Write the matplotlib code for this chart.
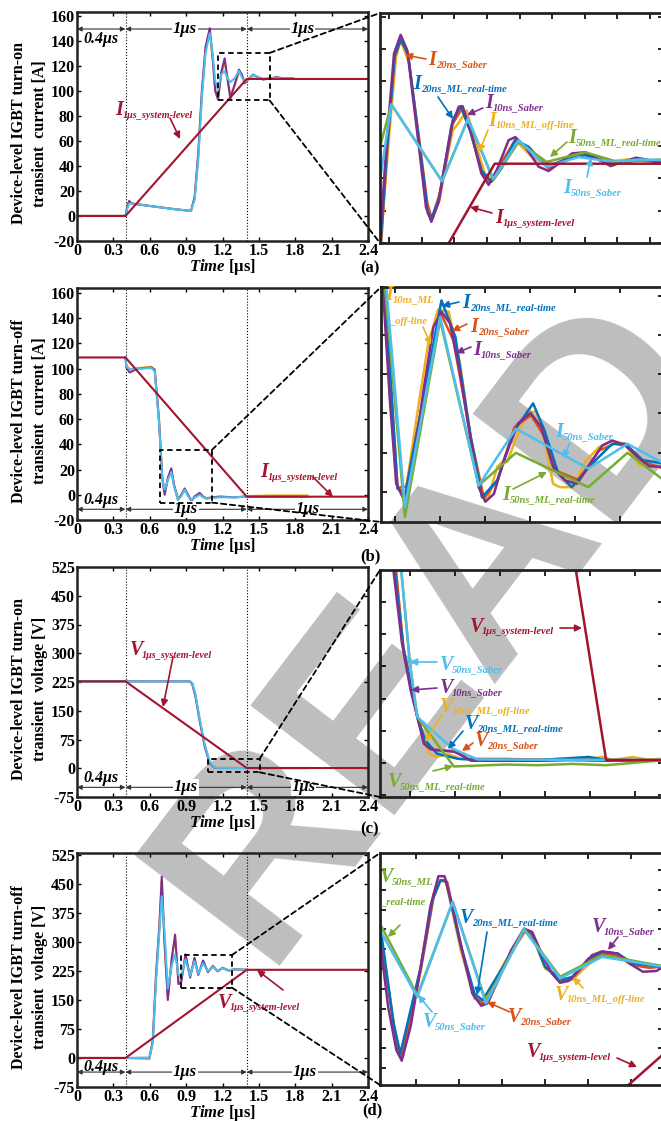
import numpy as np
import matplotlib
matplotlib.use('Agg')
import matplotlib.pyplot as plt
from matplotlib.patches import Rectangle, ConnectionPatch, FancyArrowPatch

plt.rcParams['font.family'] = ['Liberation Serif', 'DejaVu Serif']
plt.rcParams['font.weight'] = 'bold'
plt.rcParams['mathtext.fontset'] = 'custom'
plt.rcParams['mathtext.it'] = 'Liberation Serif:italic:bold'
plt.rcParams['mathtext.rm'] = 'Liberation Serif:bold'
plt.rcParams['mathtext.bf'] = 'Liberation Serif:bold'
plt.rcParams['axes.unicode_minus'] = False

# ---------------- data ----------------
TIME_TICKS = [0, 0.3, 0.6, 0.9, 1.2, 1.5, 1.8, 2.1, 2.4]
CUR_TICKS = [-20, 0, 20, 40, 60, 80, 100, 120, 140, 160]
VOLT_TICKS = [-75, 0, 75, 150, 225, 300, 375, 450, 525]

# (a) turn-on current, main view
a_t = [0, 0.40, 0.415, 0.43, 0.45, 0.6, 0.8, 0.94, 0.97, 1.0, 1.03, 1.06, 1.095, 1.12, 1.14, 1.163,
       1.19, 1.218, 1.24, 1.265, 1.3, 1.336, 1.36, 1.383, 1.42, 1.452, 1.49, 1.534, 1.6, 1.644, 1.7, 1.78]
a_s10 = [0, 0, 8, 12, 10, 8, 5.5, 4, 15, 50, 100, 135, 150, 125, 100, 93,
         115, 126, 110, 94, 105, 117, 113, 106, 110, 113, 111, 109, 110, 111, 110, 110]
a_ml10 = [0, 0, 7, 11, 10, 8, 5.5, 4, 14, 48, 98, 133, 148, 124, 101, 94,
          113, 123, 111, 96, 104, 115, 112, 107, 110, 112, 111, 109.5, 110, 110.5, 110, 110]
a_s50 = [0, 0, 6, 10, 10, 8, 5.5, 4, 13, 45, 95, 130, 146, 128, 108, 101,
         113, 116, 110, 107, 110, 116, 111, 107, 110, 113, 111, 109.5, 110, 110.5, 110, 110]
a_sys_t = [0, 0.4, 1.4, 2.4]
a_sys = [0, 0, 109.5, 109.5]

# (a) zoom view
a_z_s10_t = [1.162, 1.172, 1.184, 1.194, 1.204, 1.219, 1.232, 1.240, 1.250, 1.270, 1.281, 1.287, 1.300, 1.315, 1.326,
             1.338, 1.356, 1.366, 1.381, 1.401, 1.416, 1.431, 1.451, 1.471, 1.492, 1.509, 1.527, 1.547, 1.567, 1.582, 1.589]
a_z_s10_v = [91.0, 107.6, 123.6, 126.7, 124.1, 110.4, 98.2, 95.8, 98.8, 111.5, 114.8, 114.9, 110.4, 103.8, 101.9,
             104.3, 109.3, 109.8, 108.2, 104.9, 104.2, 105.4, 107.1, 107.3, 106.0, 105.0, 105.7, 106.4, 106.0, 105.4, 105.7]
a_z_s20_t = [1.164, 1.174, 1.185, 1.195, 1.205, 1.222, 1.234, 1.241, 1.252, 1.272, 1.286, 1.300, 1.316, 1.328, 1.340,
             1.366, 1.386, 1.416, 1.436, 1.471, 1.512, 1.552, 1.589]
a_z_s20_v = [91.0, 108.2, 123.0, 126.1, 123.3, 109.3, 98.8, 96.3, 99.3, 112.0, 114.5, 110.4, 104.0, 102.4, 104.6,
             109.4, 107.9, 104.6, 105.7, 107.1, 105.4, 106.1, 105.7]
a_z_ml10_t = [1.165, 1.177, 1.187, 1.194, 1.207, 1.224, 1.236, 1.242, 1.255, 1.272, 1.280, 1.293, 1.308, 1.320, 1.333,
              1.345, 1.366, 1.391, 1.419, 1.441, 1.469, 1.502, 1.532, 1.562, 1.589]
a_z_ml10_v = [93.8, 110.4, 123.0, 125.8, 121.9, 106.5, 97.1, 96.6, 101.6, 110.9, 112.0, 114.2, 108.2, 103.8, 102.7,
              104.9, 109.3, 106.5, 104.9, 106.2, 107.1, 105.7, 106.1, 105.8, 106.0]
a_z_ml20_t = [1.164, 1.174, 1.185, 1.194, 1.205, 1.222, 1.235, 1.241, 1.252, 1.272, 1.284, 1.298, 1.315, 1.330, 1.345,
              1.366, 1.386, 1.413, 1.441, 1.471, 1.512, 1.552, 1.589]
a_z_ml20_v = [92.7, 108.7, 123.3, 125.8, 123.6, 108.7, 97.1, 96.6, 99.9, 112.6, 114.9, 110.9, 104.3, 102.4, 104.6,
              109.3, 108.2, 104.9, 106.1, 106.8, 105.4, 106.0, 105.6]
a_z_s50_t = [1.163, 1.180, 1.256, 1.295, 1.333, 1.371, 1.413, 1.461, 1.512, 1.552, 1.589]
a_z_s50_v = [102.7, 115.2, 102.5, 112.8, 102.9, 109.3, 104.9, 106.5, 105.7, 106.1, 106.0]
a_z_ml50_t = [1.163, 1.180, 1.256, 1.295, 1.333, 1.371, 1.413, 1.471, 1.519, 1.589]
a_z_ml50_v = [108.2, 115.2, 102.5, 112.8, 102.7, 109.0, 105.7, 107.3, 105.7, 106.1]
a_z_sys_t = [1.262, 1.335, 1.589]
a_z_sys_v = [91.5, 105.4, 105.4]

# (b) turn-off current, main view
b_t = [0.40, 0.407, 0.434, 0.5, 0.613, 0.641, 0.676, 0.704, 0.723, 0.751, 0.778, 0.80, 0.833, 0.86,
       0.888, 0.915, 0.943, 0.975, 1.012, 1.04, 1.067, 1.12, 1.177, 1.3, 1.4, 1.6, 1.9]
b_s10 = [108.9, 101, 97, 100, 101, 99, 59, 12, 0, 14, 21, 8, -4, 0,
         5, 0, -5, -1, 1.5, -1.5, -3, -2, -1.5, -2, -1.5, -1.5, -1.5]
b_ml10 = [108.9, 103, 99.5, 100.5, 101.5, 99.5, 62, 14, 3, 13, 19, 8, -3, 0,
          4, 0, -4, -1, 1, -1.5, -2.5, -2, -1.5, -2, -1, -0.5, -0.5]
b_s50 = [108.9, 102, 99.5, 100, 100.5, 98, 58, 12, 4, 12, 18, 7, -4, -1,
         4, -1, -4, -2, 0, -2, -3, -2.5, -2, -2, -1.5, -1.5, -1.5]
b_sys_t = [0, 0.4, 1.4, 2.4]
b_sys = [108.9, 108.9, -1.5, -1.5]

# (b) zoom view
b_z_s10_t = [0.689, 0.700, 0.710, 0.723, 0.735, 0.751, 0.766, 0.778, 0.791, 0.806, 0.822, 0.834, 0.844, 0.857,
             0.872, 0.893, 0.912, 0.928, 0.946, 0.964, 0.982, 0.999, 1.020, 1.035, 1.055, 1.076, 1.091, 1.113]
b_z_s10_v = [37, 16.0, 0.6, -2.6, 3.6, 17.2, 28.5, 31.2, 29.1, 20.2, 8.3, 0.0, -2.6, -1.2,
             4.8, 11.3, 13.2, 10.7, 3.6, 1.2, 0.6, 3.6, 7.4, 8.3, 7.4, 5.1, 3.7, 3.6]
b_z_s20_t = [0.691, 0.712, 0.725, 0.753, 0.777, 0.796, 0.822, 0.842, 0.862, 0.888, 0.913, 0.933, 0.951,
             0.984, 1.015, 1.038, 1.055, 1.081, 1.113]
b_z_s20_v = [37, -0.1, 0.1, 17.2, 30.9, 26.1, 9.0, -2.0, 1.2, 10.7, 12.8, 9.0, 2.9,
             1.3, 6.5, 7.7, 7.4, 4.5, 3.3]
b_z_ml20_t = [0.692, 0.712, 0.724, 0.751, 0.778, 0.799, 0.822, 0.839, 0.862, 0.888, 0.916, 0.933, 0.954,
              0.974, 1.005, 1.035, 1.055, 1.081, 1.113]
b_z_ml20_v = [37, -0.3, -1.2, 16.0, 33.2, 26.7, 9.0, -1.8, 1.2, 10.1, 14.9, 10.1, 2.4,
              0.0, 4.2, 7.7, 7.7, 4.8, 4.2]
b_z_ml10_t = [0.690, 0.710, 0.723, 0.740, 0.758, 0.773, 0.789, 0.806, 0.824, 0.839, 0.848, 0.862, 0.870, 0.877,
              0.893, 0.908, 0.921, 0.933, 0.946, 0.956, 0.977, 0.994, 1.015, 1.035, 1.055, 1.076, 1.113]
b_z_ml10_v = [37, 0.6, -1.8, 11.9, 25.5, 31.6, 31.2, 22.0, 7.1, -1.8, -2.0, 3.6, 4.5, 4.5,
              9.5, 13.4, 13.4, 8.3, 0.6, 0.0, 0.0, 4.5, 7.1, 8.2, 7.7, 3.9, 3.6]
b_z_s50_t = [0.694, 0.723, 0.776, 0.834, 0.890, 0.999, 1.058, 1.113]
b_z_s50_v = [37, -3.5, 30.3, 0.3, 10.4, 3.3, 7.7, 4.2]
b_z_ml50_t = [0.692, 0.723, 0.776, 0.834, 0.890, 0.999, 1.058, 1.113]
b_z_ml50_v = [37, -5.3, 29.7, 0.3, 6.1, 0.0, 6.1, 1.2]

# (c) turn-on voltage, main view
c_t = [0, 0.4, 0.93, 0.95, 0.975, 1.01, 1.053, 1.094, 1.125, 1.149, 1.4, 1.9]
c_s10 = [226.7, 226.7, 226.7, 220, 190, 127, 57, 14, 3, 0.6, 0.6, 0.6]
c_ml10 = [226.7, 226.7, 226.7, 221, 193, 130, 60, 16, 4, 0.8, 0.6, 0.6]
c_s50 = [226.7, 226.7, 226.7, 222, 196, 132, 62, 18, 4, 1, 0.6, 0.6]
c_sys_t = [0, 0.4, 1.4, 2.4]
c_sys = [226.7, 226.7, 0.6, 0.6]

# (c) zoom view
c_z_s10_t = [1.099, 1.113, 1.126, 1.136, 1.146, 1.156, 1.192, 1.207, 1.217, 1.268, 1.318, 1.369, 1.420, 1.507]
c_z_s10_v = [26.0, 13.5, 6.1, 1.9, -2.3, -3.2, -3.6, -4.4, -5.0, -5.0, -5.0, -4.9, -5.0, -4.9]
c_z_s20_t = [1.103, 1.115, 1.128, 1.138, 1.148, 1.161, 1.197, 1.212, 1.507]
c_z_s20_v = [26.0, 12.9, 5.6, 1.4, -2.0, -3.3, -3.5, -4.7, -4.9]
c_z_ml20_t = [1.101, 1.115, 1.136, 1.148, 1.166, 1.186, 1.197, 1.237, 1.318, 1.394, 1.420, 1.507]
c_z_ml20_v = [26.0, 12.9, 1.9, -1.8, -3.9, -4.4, -4.7, -4.9, -4.9, -4.4, -4.9, -4.9]
c_z_ml10_t = [1.103, 1.115, 1.136, 1.146, 1.154, 1.166, 1.181, 1.202, 1.217, 1.268, 1.318, 1.349, 1.379,
              1.415, 1.430, 1.460, 1.481, 1.507]
c_z_ml10_v = [26.0, 12.9, 1.9, -2.0, -3.9, -4.4, -3.9, -4.7, -4.8, -4.7, -4.9, -4.7, -4.9,
              -4.4, -4.9, -4.4, -4.8, -4.7]
c_z_s50_t = [1.111, 1.125, 1.136, 1.189, 1.227, 1.507]
c_z_s50_v = [26.0, 10.3, 1.9, -3.1, -4.8, -4.9]
c_z_ml50_t = [1.111, 1.125, 1.136, 1.191, 1.268, 1.318, 1.369, 1.420, 1.507]
c_z_ml50_v = [26.0, 10.3, 1.9, -5.9, -5.6, -5.7, -5.5, -5.7, -4.9]
c_z_sys_t = [1.372, 1.420, 1.507]
c_z_sys_v = [26.6, -4.9, -4.9]

# (d) turn-off voltage, main view
d_t = [0, 0.4, 0.597, 0.625, 0.652, 0.68, 0.699, 0.721, 0.749, 0.782, 0.809, 0.837, 0.859, 0.895,
       0.933, 0.969, 1.0, 1.04, 1.08, 1.12, 1.16, 1.2, 1.25, 1.3, 1.4]
d_s10 = [0, 0, 0.4, 45, 216, 345, 469, 302, 150, 259, 319, 191, 195, 268,
         208, 259, 215, 252, 222, 238, 224, 233, 226, 229, 228]
d_ml10 = [0, 0, -3, 40, 210, 340, 460, 305, 155, 255, 312, 195, 198, 265,
          210, 257, 216, 250, 223, 237, 225, 232, 227, 229, 228]
d_s50 = [0, 0, 0.4, 40, 200, 330, 418, 330, 180, 240, 268, 215, 210, 255,
         212, 250, 218, 245, 224, 236, 225, 232, 227, 229, 228]
d_sys_t = [0, 0.4, 1.4, 2.4]
d_sys = [0, 0, 228, 228]

# (d) zoom view
d_z_s10_t = [0.859, 0.871, 0.883, 0.891, 0.904, 0.919, 0.933, 0.945, 0.954, 0.966, 0.981, 0.995, 1.008, 1.017, 1.033,
             1.052, 1.071, 1.083, 1.097, 1.112, 1.124, 1.137, 1.152, 1.171, 1.186, 1.209, 1.226, 1.246, 1.266, 1.277]
d_z_s10_v = [234.4, 210.3, 194.7, 190.8, 203.1, 224.8, 246.5, 257.6, 257.6, 246.5, 229.6, 215.1, 210.7, 211.5, 220.0,
             230.8, 238.6, 237.4, 229.6, 222.4, 219.0, 219.7, 223.6, 229.0, 230.4, 229.6, 226.0, 223.0, 223.3, 225.0]
d_z_s20_t = [0.859, 0.884, 0.891, 0.919, 0.938, 0.948, 0.958, 0.978, 0.998, 1.010, 1.018, 1.043, 1.071, 1.082,
             1.102, 1.127, 1.142, 1.166, 1.189, 1.206, 1.231, 1.256, 1.277]
d_z_s20_v = [236.8, 195.9, 192.2, 223.6, 250.1, 256.1, 255.5, 232.0, 213.9, 211.5, 211.9, 226.0, 237.4, 236.8,
             224.8, 219.4, 220.6, 227.2, 229.6, 229.0, 225.4, 224.4, 225.0]
d_z_ml10_t = [0.859, 0.886, 0.891, 0.919, 0.938, 0.947, 0.956, 0.978, 0.998, 1.013, 1.043, 1.072, 1.082, 1.102,
              1.122, 1.142, 1.162, 1.186, 1.206, 1.231, 1.277]
d_z_ml10_v = [238.0, 193.4, 191.6, 224.8, 251.3, 256.1, 255.5, 230.8, 213.3, 212.1, 226.6, 237.4, 236.8, 224.2,
              221.2, 220.0, 224.8, 229.6, 229.0, 225.4, 224.8]
d_z_ml20_t = [0.859, 0.879, 0.889, 0.919, 0.936, 0.948, 0.956, 0.976, 0.998, 1.010, 1.043, 1.071, 1.082, 1.102,
              1.127, 1.142, 1.166, 1.186, 1.209, 1.231, 1.277]
d_z_ml20_v = [240.4, 204.3, 193.4, 224.8, 248.9, 256.1, 256.1, 234.4, 215.1, 212.7, 226.0, 238.3, 237.4, 224.8,
              220.0, 221.2, 227.8, 230.2, 229.6, 226.0, 224.8]
d_z_s50_t = [0.859, 0.914, 0.966, 1.015, 1.071, 1.124, 1.186, 1.277]
d_z_s50_v = [238.0, 213.9, 248.3, 211.5, 238.3, 220.6, 228.4, 224.8]
d_z_ml50_t = [0.859, 0.914, 0.966, 1.015, 1.071, 1.124, 1.186, 1.277]
d_z_ml50_v = [240.4, 214.5, 248.3, 212.1, 238.6, 221.2, 229.0, 225.0]
d_z_sys_t = [1.220, 1.277]
d_z_sys_v = [181.0, 193.4]

# ---------------- style ----------------
C_S10 = '#7E2F8E'
C_S20 = '#D95319'
C_ML20 = '#0072BD'
C_ML10 = '#EDB120'
C_ML50 = '#77AC30'
C_S50 = '#4DBEEE'
C_SYS = '#A2142F'

W, H = 661, 1121
fig = plt.figure(figsize=(W / 100, H / 100), dpi=100)


def fx(x):
    return x / W


def fy(y):
    return 1 - y / H


def rect(x0, y0, x1, y1):
    return [x0 / W, 1 - y1 / H, (x1 - x0) / W, (y1 - y0) / H]


def setup_main(ax, ylim, yticks, ylabel):
    ax.set_facecolor('none')
    ax.set_xlim(0, 2.4)
    ax.set_ylim(*ylim)
    ax.set_xticks(TIME_TICKS)
    ax.set_xticklabels([f'{t:g}' for t in TIME_TICKS])
    ax.set_yticks(yticks)
    ax.tick_params(direction='in', length=3, width=1, top=True, right=True, labelsize=11.5, pad=1.5)
    for s in ax.spines.values():
        s.set_linewidth(1.8)
        s.set_color('#222222')
    ax.set_ylabel(ylabel, fontsize=11.5, fontweight='bold', linespacing=1.45)
    ax.yaxis.set_label_coords(-0.098, 0.47)
    ax.set_xlabel(r'$\mathit{Time}$ [μs]', fontsize=12, fontweight='bold', labelpad=-1.5)
    for xv in (0.4, 1.4):
        ax.axvline(xv, color='k', ls=':', lw=0.8, zorder=1)


def time_arrows(ax, y_line, y_small, centers):
    for x0, x1 in [(0, 0.4), (0.4, 1.4), (1.4, 2.4)]:
        ax.annotate('', xy=(x1, y_line), xytext=(x0, y_line),
                    arrowprops=dict(arrowstyle='<|-|>', color='#333333', lw=0.8,
                                    mutation_scale=7, shrinkA=0, shrinkB=0))
    ax.text(0.2, y_small, '0.4μs', ha='center', va='center', style='italic', fontsize=11.5)
    for xc in centers:
        ax.text(xc, y_line, '1μs', ha='center', va='center', style='italic', fontsize=12,
                bbox=dict(facecolor='white', edgecolor='none', pad=0.5))


def setup_zoom(zax, xl, yl, xf, yf):
    zax.set_facecolor('none')
    zax.set_xlim(*xl)
    zax.set_ylim(*yl)
    zax.set_xticks([xl[0] + (xl[1] - xl[0]) * f for f in xf])
    zax.set_yticks([yl[0] + (yl[1] - yl[0]) * f for f in yf])
    zax.tick_params(direction='in', length=4, width=1.2, top=True, right=True,
                    labelbottom=False, labelleft=False)
    for s in zax.spines.values():
        s.set_linewidth(2.0)
        s.set_color('#222222')


def zoom_box(ax, zax, xl, yl):
    ax.add_patch(Rectangle((xl[0], yl[0]), xl[1] - xl[0], yl[1] - yl[0], fill=False,
                           ls=(0, (3, 2)), lw=1.3, ec='k', zorder=5))
    for ya, yb in ((yl[1], 1), (yl[0], 0)):
        con = ConnectionPatch(xyA=(xl[1], ya), coordsA=ax.transData, xyB=(0, yb), coordsB=zax.transAxes,
                              ls=(0, (3, 2)), lw=1.3, color='k')
        fig.add_artist(con)


def arrow(color, tail, tip):
    arr = FancyArrowPatch(posA=(fx(tail[0]), fy(tail[1])), posB=(fx(tip[0]), fy(tip[1])),
                          transform=fig.transFigure, arrowstyle='-|>', mutation_scale=10,
                          color=color, lw=1.2, shrinkA=0, shrinkB=0)
    fig.add_artist(arr)


def tag(letter, sub, color, xy, tail, tip, sub_size=7.6):
    # big italic symbol followed by a smaller lowered subscript
    dx = 8 if letter == 'I' else 12
    fig.text(fx(xy[0]), fy(xy[1]), letter, color=color, fontsize=14.5, style='italic',
             ha='left', va='center')
    fig.text(fx(xy[0] + dx), fy(xy[1] + 5), sub, color=color, fontsize=sub_size, style='italic',
             ha='left', va='center')
    arrow(color, tail, tip)


def sub_line(text, color, xy):
    fig.text(fx(xy[0]), fy(xy[1]), text, color=color, fontsize=7.6, style='italic',
             ha='left', va='center')


# watermark under everything
fig.text(fx(262), fy(966), 'READ', fontsize=190, color='#BEBEBE', family='Liberation Sans',
         weight='bold', rotation=52.7, rotation_mode='anchor', ha='left', va='baseline', zorder=-1)

ZLW = 1.8
MLW = 1.5

# ---------------- (a) ----------------
ax = fig.add_axes(rect(77, 12, 368, 241))
setup_main(ax, (-20, 163), CUR_TICKS, 'Device-level IGBT turn-on\ntransient  current [A]')
ax.plot(a_t, a_ml10, color=C_ML10, lw=MLW)
ax.plot(a_t, a_s10, color=C_S10, lw=MLW)
ax.plot(a_t, a_s50, color=C_S50, lw=MLW)
ax.plot(a_sys_t, a_sys, color=C_SYS, lw=MLW)
time_arrows(ax, 149.4, 141.5, (0.89, 1.86))
zax = fig.add_axes(rect(380, 13, 664, 243))
xl, yl = (1.163, 1.589), (92.3, 130.3)
setup_zoom(zax, xl, yl, np.arange(0.032, 1, 0.1148), np.arange(0, 1, 0.1406))
zax.plot(a_z_ml10_t, a_z_ml10_v, color=C_ML10, lw=ZLW)
zax.plot(a_z_s20_t, a_z_s20_v, color=C_S20, lw=ZLW)
zax.plot(a_z_ml20_t, a_z_ml20_v, color=C_ML20, lw=ZLW)
zax.plot(a_z_s10_t, a_z_s10_v, color=C_S10, lw=ZLW)
zax.plot(a_z_ml50_t, a_z_ml50_v, color=C_ML50, lw=ZLW)
zax.plot(a_z_s50_t, a_z_s50_v, color=C_S50, lw=ZLW)
zax.plot(a_z_sys_t, a_z_sys_v, color=C_SYS, lw=ZLW)
zoom_box(ax, zax, xl, yl)
tag('I', '1μs_system-level', C_SYS, (115, 110), (170, 118), (180, 139), sub_size=7.3)
tag('I', '20ns_Saber', C_S20, (428, 60), (426, 59), (405, 55))
tag('I', '20ns_ML_real-time', C_ML20, (413, 84), (438, 97), (453, 119))
tag('I', '10ns_Saber', C_S10, (485, 103), (483, 108), (467, 115))
tag('I', '10ns_ML_off-line', C_ML10, (488, 121), (488, 130), (479, 152))
tag('I', '50ns_ML_real-time', C_ML50, (568, 138), (567, 142), (550, 157))
tag('I', '50ns_Saber', C_S50, (563, 188), (587, 177), (591, 158))
tag('I', '1μs_system-level', C_SYS, (495, 218), (492, 213), (470, 207))
fig.text(fx(370), fy(268), '(a)', ha='center', va='center', fontsize=12)

# ---------------- (b) ----------------
ax = fig.add_axes(rect(77, 288, 368, 520))
setup_main(ax, (-20, 164), CUR_TICKS, 'Device-level IGBT turn-off\ntransient  current [A]')
ax.plot(b_t, b_ml10, color=C_ML10, lw=MLW)
ax.plot(b_t, b_s10, color=C_S10, lw=MLW)
ax.plot(b_t, b_s50, color=C_S50, lw=MLW)
ax.plot(b_sys_t, b_sys, color=C_SYS, lw=MLW)
time_arrows(ax, -11.5, -4.1, (0.9, 1.9))
zax = fig.add_axes(rect(381, 287, 664, 522))
xl, yl = (0.687, 1.113), (-6.2, 35.6)
setup_zoom(zax, xl, yl, np.arange(0.048, 1, 0.159), np.arange(0.128, 1, 0.167))
zax.plot(b_z_ml10_t, b_z_ml10_v, color=C_ML10, lw=ZLW)
zax.plot(b_z_s20_t, b_z_s20_v, color=C_S20, lw=ZLW)
zax.plot(b_z_ml20_t, b_z_ml20_v, color=C_ML20, lw=ZLW)
zax.plot(b_z_s10_t, b_z_s10_v, color=C_S10, lw=ZLW)
zax.plot(b_z_ml50_t, b_z_ml50_v, color=C_ML50, lw=ZLW)
zax.plot(b_z_s50_t, b_z_s50_v, color=C_S50, lw=ZLW)
zoom_box(ax, zax, xl, yl)
tag('I', '1μs_system-level', C_SYS, (260, 472), (313, 477), (333, 497), sub_size=7.3)
tag('I', '10ns_ML', C_ML10, (385, 295), (423, 327), (431, 345))
sub_line('_off-line', C_ML10, (391, 322))
tag('I', '20ns_ML_real-time', C_ML20, (462, 303), (459, 302), (442, 306))
tag('I', '20ns_Saber', C_S20, (470, 327), (467, 324), (452, 331))
tag('I', '10ns_Saber', C_S10, (473, 350), (471, 347), (456, 353))
tag('I', '50ns_Saber', C_S50, (555, 432), (570, 443), (563, 458))
tag('I', '50ns_ML_real-time', C_ML50, (502, 495), (513, 489), (547, 472))
fig.text(fx(370), fy(556), '(b)', ha='center', va='center', fontsize=12)

# ---------------- (c) ----------------
ax = fig.add_axes(rect(77, 567, 368, 797))
setup_main(ax, (-75, 525), VOLT_TICKS, 'Device-level IGBT turn-on\ntransient  voltage [V]')
ax.plot(c_t, c_ml10, color=C_ML10, lw=MLW)
ax.plot(c_t, c_s10, color=C_S10, lw=MLW)
ax.plot(c_t, c_s50, color=C_S50, lw=MLW)
ax.plot(c_sys_t, c_sys, color=C_SYS, lw=MLW)
time_arrows(ax, -49.8, -25.4, (0.9, 1.87))
zax = fig.add_axes(rect(380, 570, 664, 797))
xl, yl = (1.080, 1.507), (-10.7, 25.0)
setup_zoom(zax, xl, yl, np.arange(0.104, 1, 0.159), np.arange(0.007, 1, 0.142))
zax.plot(c_z_ml10_t, c_z_ml10_v, color=C_ML10, lw=ZLW)
zax.plot(c_z_s20_t, c_z_s20_v, color=C_S20, lw=ZLW)
zax.plot(c_z_ml20_t, c_z_ml20_v, color=C_ML20, lw=ZLW)
zax.plot(c_z_s10_t, c_z_s10_v, color=C_S10, lw=ZLW)
zax.plot(c_z_ml50_t, c_z_ml50_v, color=C_ML50, lw=ZLW)
zax.plot(c_z_s50_t, c_z_s50_v, color=C_S50, lw=ZLW)
zax.plot(c_z_sys_t, c_z_sys_v, color=C_SYS, lw=ZLW)
zoom_box(ax, zax, xl, yl)
tag('V', '1μs_system-level', C_SYS, (130, 650), (173, 657), (163, 707), sub_size=7.3)
tag('V', '1μs_system-level', C_SYS, (470, 627), (560, 628), (582, 628))
tag('V', '50ns_Saber', C_S50, (440, 665), (437, 662), (410, 662))
tag('V', '10ns_Saber', C_S10, (440, 688), (437, 688), (411, 690))
tag('V', '10ns_ML_off-line', C_ML10, (440, 707), (442, 715), (425, 742))
tag('V', '20ns_ML_real-time', C_ML20, (465, 724), (463, 731), (448, 749))
tag('V', '20ns_Saber', C_S20, (475, 741), (473, 743), (462, 751))
tag('V', '50ns_ML_real-time', C_ML50, (388, 782), (433, 771), (453, 766))
fig.text(fx(370), fy(829), '(c)', ha='center', va='center', fontsize=12)

# ---------------- (d) ----------------
ax = fig.add_axes(rect(77, 853, 368, 1087))
setup_main(ax, (-75, 530), VOLT_TICKS, 'Device-level IGBT turn-off\ntransient  voltage [V]')
ax.plot(d_t, d_ml10, color=C_ML10, lw=MLW)
ax.plot(d_t, d_s10, color=C_S10, lw=MLW)
ax.plot(d_t, d_s50, color=C_S50, lw=MLW)
ax.plot(d_sys_t, d_sys, color=C_SYS, lw=MLW)
time_arrows(ax, -36.4, -23.6, (0.89, 1.88))
zax = fig.add_axes(rect(380, 853, 664, 1085))
xl, yl = (0.859, 1.277), (182, 266)
setup_zoom(zax, xl, yl, np.arange(0.125, 1, 0.152), np.arange(0.072, 1, 0.0855))
zax.plot(d_z_ml10_t, d_z_ml10_v, color=C_ML10, lw=ZLW)
zax.plot(d_z_s20_t, d_z_s20_v, color=C_S20, lw=ZLW)
zax.plot(d_z_ml20_t, d_z_ml20_v, color=C_ML20, lw=ZLW)
zax.plot(d_z_s10_t, d_z_s10_v, color=C_S10, lw=ZLW)
zax.plot(d_z_ml50_t, d_z_ml50_v, color=C_ML50, lw=ZLW)
zax.plot(d_z_s50_t, d_z_s50_v, color=C_S50, lw=ZLW)
zax.plot(d_z_sys_t, d_z_sys_v, color=C_SYS, lw=ZLW)
zoom_box(ax, zax, xl, yl)
tag('V', '1μs_system-level', C_SYS, (218, 1003), (283, 990), (257, 970), sub_size=7.3)
tag('V', '50ns_ML', C_ML50, (380, 877), (400, 925), (388, 937))
sub_line('_real-time', C_ML50, (382, 902))
tag('V', '20ns_ML_real-time', C_ML20, (460, 918), (487, 932), (477, 995))
tag('V', '10ns_Saber', C_S10, (592, 927), (618, 937), (608, 950))
tag('V', '10ns_ML_off-line', C_ML10, (555, 995), (583, 988), (573, 977))
tag('V', '50ns_Saber', C_S50, (423, 1022), (432, 1012), (418, 995))
tag('V', '20ns_Saber', C_S20, (508, 1017), (510, 1012), (487, 1002))
tag('V', '1μs_system-level', C_SYS, (527, 1052), (617, 1058), (637, 1067))
fig.text(fx(372), fy(1110), '(d)', ha='center', va='center', fontsize=12)

fig.savefig('out.png', dpi=100)
